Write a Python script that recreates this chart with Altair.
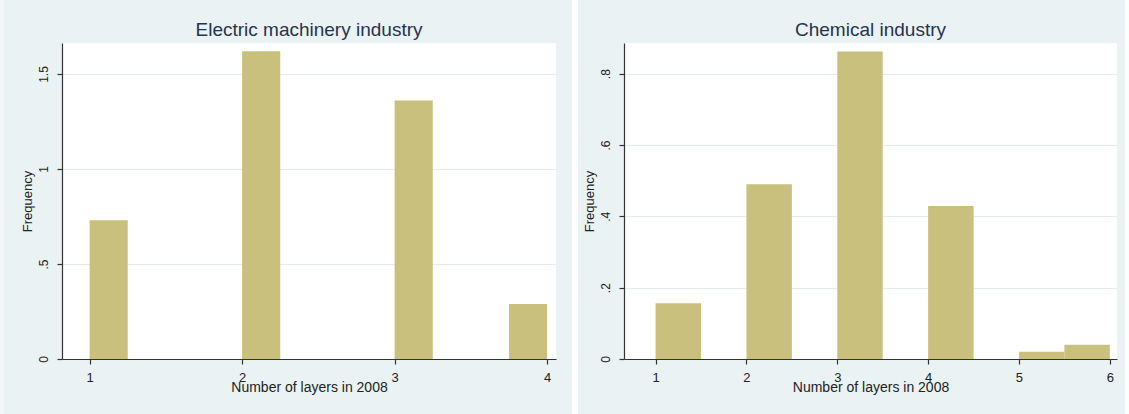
import altair as alt
import pandas as pd

# Density histograms of the number of layers in 2008, by industry
elec_lo = [1.0, 2.0, 3.0, 3.75]
elec_hi = [1.25, 2.25, 3.25, 4.0]
elec_density = [0.73, 1.62, 1.36, 0.29]

chem_lo = [1.0, 2.0, 3.0, 4.0, 5.0, 5.5]
chem_hi = [1.5, 2.5, 3.5, 4.5, 5.5, 6.0]
chem_density = [0.156, 0.49, 0.862, 0.429, 0.02, 0.04]

elec_xticks = [1, 2, 3, 4]
chem_xticks = [1, 2, 3, 4, 5, 6]
elec_yticks = [0, 0.5, 1, 1.5]
chem_yticks = [0, 0.2, 0.4, 0.6, 0.8]

FONT = "Liberation Sans"
BG = "#eaf2f3"
BAR = "#c8c07c"
INK = "#222222"
TITLE_INK = "#26344f"

# Stata-style tick labels: ".5" rather than "0.5"
YLABEL = ("datum.value > 0 && datum.value < 1 ? "
          "substring(format(datum.value, '.1f'), 1, 10) : format(datum.value, '~g')")


def panel(title, lo, hi, dens, xticks, yticks, xdom, ydom, width, height, extra):
    df = pd.DataFrame({"lo": lo, "hi": hi, "density": dens})
    bars = alt.Chart(df).mark_rect(color=BAR).encode(
        x=alt.X(
            "lo:Q",
            scale=alt.Scale(domain=xdom, nice=False, zero=False),
            axis=alt.Axis(
                values=xticks, format="d", title="Number of layers in 2008",
                grid=False, tickSize=5, labelPadding=7, labelFontSize=13,
                titleFontSize=14, titleFontWeight="normal", titleY=32,
                titleBaseline="alphabetic",
            ),
        ),
        x2="hi:Q",
        y=alt.Y(
            "density:Q",
            scale=alt.Scale(domain=ydom, nice=False),
            axis=alt.Axis(
                values=yticks, labelExpr=YLABEL, title="Frequency",
                grid=True, gridColor="#e4ecee", gridWidth=1,
                tickSize=5, labelAngle=270, labelAlign="center",
                labelBaseline="alphabetic", labelPadding=10, labelFontSize=12,
                titleFontSize=13, titleFontWeight="normal", titleAngle=270,
                titleBaseline="alphabetic", titleX=-31,
            ),
        ),
        y2=alt.datum(0),
    )
    one = alt.Data(values=[{"k": 0}])
    heading = alt.Chart(one).mark_text(
        text=title, font=FONT, fontSize=19, color=TITLE_INK,
        align="center", baseline="alphabetic",
    ).encode(x=alt.value(width / 2), y=alt.value(-7))
    layers = [bars, heading]
    for (x0, x1, color) in extra:
        layers.append(
            alt.Chart(one).mark_rect(color=color).encode(
                x=alt.value(x0), x2=alt.value(x1),
                y=alt.value(-43), y2=alt.value(height + 55),
            )
        )
    return alt.layer(*layers).properties(width=width, height=height)


left = panel("Electric machinery industry", elec_lo, elec_hi, elec_density,
             elec_xticks, elec_yticks, [0.819, 4.058], [0, 1.663], 494, 316,
             [(-62, -58, "#f3f7f8")])
right = panel("Chemical industry", chem_lo, chem_hi, chem_density,
              chem_xticks, chem_yticks, [0.652, 6.079], [0, 0.886], 493, 316,
              [(-52, -46, "#ffffff"), (501, 505, "#ffffff")])

chart = alt.hconcat(left, right, spacing=68, bounds="flush").properties(
    background=BG, padding=0,
).configure_view(
    fill="white", stroke=None,
).configure_axis(
    labelFont=FONT, titleFont=FONT, labelColor=INK, titleColor=INK,
    domainColor="#333333", tickColor="#333333", domainWidth=1.2, tickWidth=1.2,
)

chart.save("out.html", embed_options={"renderer": "svg", "actions": False})
